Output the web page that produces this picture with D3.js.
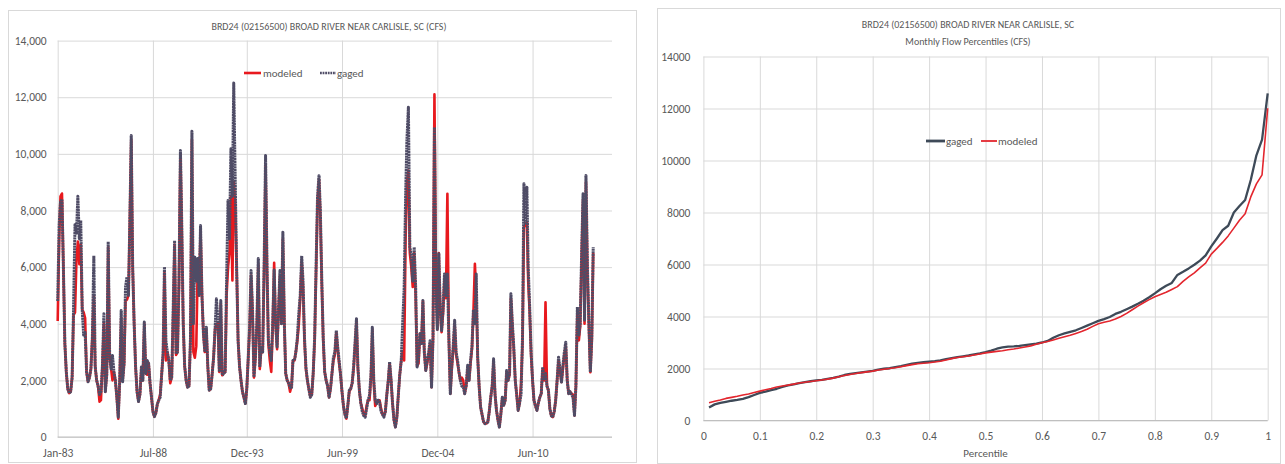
<!DOCTYPE html>
<html>
<head>
<meta charset="utf-8">
<script src="https://cdn.jsdelivr.net/npm/d3@7"></script>
<style>
body { margin: 0; background: #fff; }
text { font-family: Carlito, Calibri, Lato, sans-serif; fill: #595959; }
</style>
</head>
<body>
<svg id="chart" width="1285" height="464"></svg>
<script>
if(!d3){
    throw new Error("d3 failed to load");
}

// monthly flows, Jan 1983 .. Dec 2013 (cfs), one row per year
const gaged = [
    4800, 7500, 8300, 8400, 6000, 3300, 2300, 1700, 1550, 1600, 2100, 4500,
    7500, 7200, 8500, 7000, 7650, 4500, 3600, 3700, 2300, 1950, 2100, 2400,
    3500, 6400, 2500, 2000, 1800, 1500, 1600, 2500, 4350, 1600, 2200, 6900,
    2800, 2400, 2880, 2300, 2000, 1400, 700, 2000, 4470, 1950, 2600, 5300,
    5650, 5000, 7500, 10650, 6000, 4000, 2500, 1600, 1250, 1500, 2470, 2000,
    4060, 2240, 2700, 2600, 1900, 1400, 900, 720, 850, 1150, 1300, 1400,
    2200, 3000, 6000, 3400, 3000, 2700, 2000, 2100, 4500, 6940, 2940, 3000,
    5500, 10120, 7500, 4000, 2500, 2000, 1760, 1800, 3500, 10800, 4000, 6350,
    5500, 6300, 5000, 7470, 5000, 3650, 3000, 3880, 2500, 1650, 1700, 2200,
    2800, 3800, 4880, 4120, 2300, 4820, 2180, 2250, 2300, 5500, 8350, 7000,
    10180, 8500, 12500, 9060, 6000, 3400, 2500, 2000, 1600, 1400, 1180, 1700,
    2800, 4000, 5880, 4500, 2120, 2800, 4000, 6300, 2470, 3180, 3000, 6000,
    9940, 6000, 3400, 3000, 2700, 4000, 5900, 4000, 3180, 4500, 5880, 4000,
    7235, 4000, 2240, 2000, 1900, 1750, 1700, 2700, 2700, 3000, 3500, 4350,
    5000, 6400, 5500, 3500, 2470, 2000, 1700, 1400, 1500, 2240, 3500, 6000,
    8500, 9230, 8000, 5500, 3500, 2300, 2000, 1800, 1400, 1700, 2240, 2800,
    3000, 3760, 3200, 2700, 2200, 1600, 1100, 800, 650, 1100, 1650, 1700,
    1900, 2500, 3300, 4180, 2500, 1650, 1200, 900, 750, 700, 1000, 1300,
    1470, 2200, 3880, 2000, 1300, 1180, 1300, 1230, 900, 800, 700, 900,
    1500, 2000, 2650, 2000, 1200, 600, 350, 700, 1500, 2200, 2700, 4000,
    5240, 8500, 10500, 11650, 6700, 6400, 5500, 6700, 5300, 2470, 2800, 3650,
    3300, 4820, 3000, 2350, 2700, 3000, 3400, 1760, 3500, 10940, 5180, 3800,
    6470, 4500, 3760, 4500, 5760, 5000, 5760, 3500, 1530, 2500, 3200, 4120,
    3000, 2700, 2300, 2000, 1800, 1760, 1530, 1800, 2530, 2000, 2700, 3200,
    4500, 4000, 5760, 2820, 1800, 1060, 800, 550, 470, 480, 530, 900,
    1400, 1800, 2760, 1500, 940, 600, 350, 800, 1400, 1120, 1300, 2350,
    2000, 2240, 5060, 4000, 3180, 2000, 1500, 940, 1200, 1500, 3500, 8940,
    7500, 8820, 6000, 4590, 3000, 2000, 1290, 1100, 940, 1200, 1400, 1530,
    2470, 2000, 2240, 1800, 1650, 1000, 750, 700, 900, 1290, 2000, 2820,
    2400, 1940, 2500, 3000, 3350, 2000, 1530, 1600, 1500, 1400, 760, 1800,
    4590, 3600, 4000, 6500, 8590, 4120, 9235, 6000, 4000, 2290, 3500, 6700
];

const modeled = [
    4100, 7000, 8500, 8600, 6000, 3300, 2300, 1700, 1550, 1600, 2100, 4300,
    4400, 6300, 6900, 6100, 6800, 4500, 4400, 4200, 2300, 1950, 2100, 2400,
    3500, 5000, 2500, 2000, 1800, 1250, 1300, 2500, 4000, 1600, 2200, 6700,
    2800, 2400, 2000, 2300, 2000, 1400, 650, 2000, 4200, 2000, 2600, 4800,
    4850, 5000, 7500, 10500, 6000, 4000, 2500, 1600, 1250, 1500, 2400, 2000,
    4000, 2240, 2200, 2600, 1900, 1400, 900, 720, 850, 1150, 1300, 1500,
    2200, 2900, 5800, 2700, 3000, 2700, 1900, 2100, 4300, 6800, 2900, 3000,
    5400, 10000, 7300, 4000, 2500, 2000, 1760, 1800, 3400, 10500, 3000, 2800,
    3200, 6100, 5000, 7300, 5000, 3650, 3000, 3800, 2500, 1650, 1700, 2200,
    2800, 3800, 4000, 4000, 2300, 4700, 2180, 2250, 2300, 5000, 6000, 6500,
    8500, 5530, 9000, 8200, 6000, 3400, 2500, 2000, 1600, 1400, 1180, 1700,
    2800, 3900, 5700, 4400, 2100, 2800, 3900, 6100, 2400, 3100, 3000, 5800,
    9600, 5800, 3300, 2700, 2300, 3900, 6150, 4000, 3100, 4400, 5700, 4000,
    7000, 4000, 2240, 2000, 1900, 1600, 1800, 2700, 2700, 3000, 3400, 3950,
    4900, 6200, 5300, 3400, 2400, 2000, 1700, 1450, 1500, 2240, 3400, 5800,
    8300, 9100, 7800, 5400, 3400, 2300, 2000, 1800, 1400, 1700, 2240, 2700,
    2900, 3700, 3100, 2600, 2200, 1600, 1100, 800, 650, 1100, 1600, 1700,
    1900, 2400, 3200, 4100, 2400, 1650, 1200, 1000, 800, 750, 1100, 1300,
    1300, 2100, 3800, 1900, 1100, 1200, 1300, 1300, 1000, 800, 750, 900,
    1500, 2000, 2600, 2000, 1200, 600, 350, 700, 1500, 2200, 2700, 3000,
    2700, 7000, 9000, 9410, 6500, 6000, 5300, 6500, 5000, 2500, 2600, 3650,
    3300, 4800, 3000, 2350, 2600, 2900, 3300, 1760, 3500, 12100, 5500, 3800,
    6500, 4400, 3700, 4400, 5600, 4900, 8590, 3500, 1530, 2400, 3100, 4000,
    2900, 2600, 2300, 2000, 2100, 2000, 1530, 1800, 2400, 2000, 2600, 3100,
    4400, 6120, 5000, 2800, 1800, 1060, 800, 550, 470, 480, 530, 900,
    1400, 1800, 2700, 1500, 940, 600, 350, 800, 1400, 1120, 1300, 2300,
    2000, 2200, 4900, 3900, 3100, 2000, 1500, 940, 1200, 1880, 3300, 7400,
    7500, 7600, 5500, 4400, 2900, 2000, 1290, 1100, 940, 1200, 1400, 1530,
    2400, 2000, 4760, 1800, 1650, 1000, 750, 700, 900, 1290, 2000, 2700,
    2300, 1940, 2400, 2900, 3200, 2000, 1530, 1600, 1530, 1500, 760, 1800,
    4400, 3410, 3900, 6300, 8400, 4000, 9000, 5800, 3900, 2290, 3400, 6500
];

// monthly flow percentiles, 0.01 .. 1.00
const pctGaged = [
    500, 620, 680, 720, 760, 790, 830, 900, 980, 1060,
    1110, 1170, 1220, 1290, 1350, 1390, 1440, 1480, 1510, 1540,
    1560, 1600, 1640, 1690, 1750, 1790, 1820, 1850, 1880, 1910,
    1960, 1990, 2010, 2050, 2090, 2140, 2190, 2220, 2240, 2260,
    2280, 2310, 2360, 2400, 2440, 2470, 2500, 2540, 2580, 2630,
    2690, 2760, 2810, 2840, 2850, 2870, 2900, 2930, 2960, 3000,
    3060, 3180, 3280, 3350, 3410, 3470, 3560, 3650, 3740, 3830,
    3900, 3980, 4100, 4180, 4280, 4380, 4490, 4610, 4740, 4890,
    5050, 5180, 5290, 5600, 5720, 5850, 5990, 6150, 6350, 6700,
    7000, 7320, 7490, 8000, 8250, 8480, 9250, 10200, 10800, 12580
];

const pctModeled = [
    680, 740, 790, 850, 890, 930, 980, 1020, 1080, 1130,
    1180, 1230, 1290, 1330, 1360, 1400, 1440, 1470, 1500, 1530,
    1560, 1590, 1630, 1680, 1730, 1770, 1810, 1840, 1870, 1900,
    1940, 1970, 2000, 2030, 2070, 2110, 2150, 2180, 2200, 2220,
    2250, 2280, 2330, 2380, 2420, 2450, 2480, 2520, 2560, 2600,
    2630, 2660, 2680, 2720, 2750, 2790, 2830, 2870, 2930, 2990,
    3040, 3100, 3160, 3220, 3280, 3350, 3420, 3510, 3620, 3720,
    3780, 3830, 3900, 4000, 4120, 4260, 4400, 4530, 4650, 4760,
    4850, 4930, 5040, 5150, 5350, 5520, 5680, 5870, 6050, 6400,
    6620, 6850, 7100, 7400, 7700, 7950, 8600, 9100, 9450, 12010
];

const dateTicks = ["1983-01", "1988-07", "1993-12", "1999-06", "2004-12", "2010-06"];
const flowTicks = [0, 2000, 4000, 6000, 8000, 10000, 12000, 14000];
const pctTicks = [0, 0.1, 0.2, 0.3, 0.4, 0.5, 0.6, 0.7, 0.8, 0.9, 1];

const titleLeft = "BRD24 (02156500) BROAD RIVER NEAR CARLISLE, SC (CFS)";
const titleRight = ["BRD24 (02156500) BROAD RIVER NEAR CARLISLE, SC", "Monthly Flow Percentiles (CFS)"];

const RED = "#E8191E";
const SLATE = "#4F4C66";
const GRID = "#D9D9D9";

const svg = d3.select("#chart");
svg.append("rect").attr("width", 1285).attr("height", 464).attr("fill", "#fff");

const parseMonth = d3.timeParse("%Y-%m");
const start = parseMonth("1983-01");
const monthOf = (i) => d3.timeMonth.offset(start, i);

const styleGrid = (g) => {
    g.select(".domain").remove();
    g.selectAll(".tick line").attr("stroke", GRID).attr("stroke-width", 1);
    g.selectAll(".tick text").attr("fill", "#595959");
};

// ---------- left panel: monthly series ----------
svg.append("rect")
    .attr("x", 8.5).attr("y", 10.5).attr("width", 628).attr("height", 452)
    .attr("fill", "none").attr("stroke", GRID);

const xT = d3.scaleTime()
    .domain([start, parseMonth("2015-01")])
    .range([57.7, 612]);
const yT = d3.scaleLinear().domain([0, 14000]).range([437, 40.6]);

svg.append("g")
    .attr("transform", `translate(${xT.range()[0]},0)`)
    .style("font-size", "11.5px")
    .call(d3.axisLeft(yT).tickValues(flowTicks)
        .tickSize(-(xT.range()[1] - xT.range()[0]))
        .tickPadding(11)
        .tickFormat(d3.format(",")))
    .call(styleGrid);

svg.append("g")
    .attr("transform", `translate(0,${yT(0)})`)
    .style("font-size", "11.5px")
    .call(d3.axisBottom(xT).tickValues(dateTicks.map(parseMonth))
        .tickSize(-(yT(0) - yT(14000)))
        .tickPadding(12)
        .tickFormat(d3.timeFormat("%b-%y")))
    .call(styleGrid);

svg.append("line")
    .attr("x1", xT.range()[0]).attr("x2", xT.range()[1])
    .attr("y1", yT(0)).attr("y2", yT(0))
    .attr("stroke", "#BFBFBF");

const lineT = d3.line()
    .x((d, i) => xT(monthOf(i)))
    .y(d => yT(d));

svg.append("path").datum(modeled)
    .attr("d", lineT).attr("fill", "none")
    .attr("stroke", RED).attr("stroke-width", 2.6)
    .attr("stroke-linejoin", "round");

svg.append("path").datum(gaged)
    .attr("d", lineT).attr("fill", "none")
    .attr("stroke", SLATE).attr("stroke-width", 3)
    .attr("stroke-dasharray", "2.2,0.5")
    .attr("stroke-linejoin", "round");

svg.append("text")
    .attr("x", 329).attr("y", 30)
    .attr("text-anchor", "middle")
    .style("font-size", "10px")
    .text(titleLeft);

// legend
const legL = svg.append("g").attr("transform", "translate(244,73)");
legL.append("line").attr("x1", 0).attr("x2", 17)
    .attr("stroke", RED).attr("stroke-width", 2.6);
legL.append("text").attr("x", 19).attr("y", 4).style("font-size", "11px").text("modeled");
legL.append("line").attr("x1", 76).attr("x2", 92)
    .attr("stroke", SLATE).attr("stroke-width", 2.6).attr("stroke-dasharray", "1.8,0.8");
legL.append("text").attr("x", 93).attr("y", 4).style("font-size", "11px").text("gaged");

// ---------- right panel: percentiles ----------
svg.append("rect")
    .attr("x", 657.5).attr("y", 8.5).attr("width", 623).attr("height", 455)
    .attr("fill", "none").attr("stroke", GRID);

const xP = d3.scaleLinear().domain([0, 1]).range([703.4, 1267.7]);
const yP = d3.scaleLinear().domain([0, 14000]).range([420.5, 56.5]);
const percentiles = pctGaged.map((d, i) => (i + 1) / 100);

svg.append("g")
    .attr("transform", `translate(${xP.range()[0]},0)`)
    .style("font-size", "11.5px")
    .call(d3.axisLeft(yP).tickValues(flowTicks)
        .tickSize(-(xP.range()[1] - xP.range()[0]))
        .tickPadding(13)
        .tickFormat(d3.format("d")))
    .call(styleGrid);

svg.append("g")
    .attr("transform", `translate(0,${yP(0)})`)
    .style("font-size", "11.5px")
    .call(d3.axisBottom(xP).tickValues(pctTicks)
        .tickSize(-(yP(0) - yP(14000)))
        .tickPadding(11)
        .tickFormat(d3.format("")))
    .call(styleGrid);

svg.append("line")
    .attr("x1", xP.range()[0]).attr("x2", xP.range()[1])
    .attr("y1", yP(0)).attr("y2", yP(0))
    .attr("stroke", "#BFBFBF");

const lineP = d3.line()
    .x((d, i) => xP(percentiles[i]))
    .y(d => yP(d));

svg.append("path").datum(pctGaged)
    .attr("d", lineP).attr("fill", "none")
    .attr("stroke", "#3E4A58").attr("stroke-width", 2.3)
    .attr("stroke-linejoin", "round");

svg.append("path").datum(pctModeled)
    .attr("d", lineP).attr("fill", "none")
    .attr("stroke", "#E3262E").attr("stroke-width", 1.6)
    .attr("stroke-linejoin", "round");

svg.append("text")
    .attr("text-anchor", "middle")
    .style("font-size", "10px")
    .selectAll("tspan").data(titleRight).join("tspan")
    .attr("x", 968).attr("y", (d, i) => 28 + i * 17)
    .text(d => d);

svg.append("text")
    .attr("x", (xP.range()[0] + xP.range()[1]) / 2).attr("y", 457)
    .attr("text-anchor", "middle")
    .style("font-size", "11px")
    .text("Percentile");

const legR = svg.append("g").attr("transform", "translate(926,141)");
legR.append("line").attr("x1", 0).attr("x2", 19)
    .attr("stroke", "#3E4A58").attr("stroke-width", 2.8);
legR.append("text").attr("x", 20).attr("y", 4).style("font-size", "11px").text("gaged");
legR.append("line").attr("x1", 55).attr("x2", 71)
    .attr("stroke", "#E3262E").attr("stroke-width", 1.8);
legR.append("text").attr("x", 72).attr("y", 4).style("font-size", "11px").text("modeled");
</script>
</body>
</html>
